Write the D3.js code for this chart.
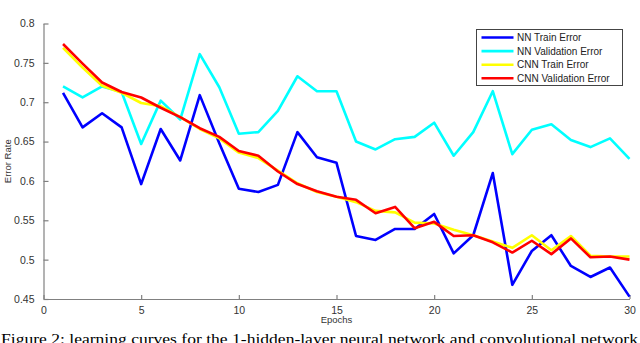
<!DOCTYPE html>
<html>
<head>
<meta charset="utf-8">
<script src="https://d3js.org/d3.v7.min.js"></script>
<style>
  body { margin: 0; background: #fff; }
  svg { display: block; }
</style>
</head>
<body>
<div id="chart"></div>
<script>
// Learning curves: NN vs CNN error rate per epoch

// ==========================================================
// Data
var epochs = d3.range(1, 31);

var nnTrain = [0.712, 0.668, 0.686, 0.668, 0.596, 0.666, 0.626, 0.709, 0.648, 0.590,
               0.586, 0.595, 0.662, 0.630, 0.623, 0.530, 0.525, 0.539, 0.539, 0.558,
               0.508, 0.531, 0.610, 0.468, 0.511, 0.531, 0.492, 0.478, 0.490, 0.453];

var nnValid = [0.720, 0.706, 0.720, 0.713, 0.647, 0.702, 0.678, 0.761, 0.719, 0.660,
               0.662, 0.689, 0.733, 0.714, 0.714, 0.650, 0.640, 0.653, 0.656, 0.674,
               0.632, 0.662, 0.714, 0.634, 0.665, 0.672, 0.652, 0.643, 0.654, 0.628];

var cnnTrain = [0.769, 0.744, 0.721, 0.712, 0.699, 0.695, 0.681, 0.666, 0.654, 0.636,
                0.629, 0.613, 0.597, 0.586, 0.580, 0.573, 0.562, 0.560, 0.547, 0.546,
                0.538, 0.531, 0.523, 0.515, 0.531, 0.512, 0.530, 0.505, 0.504, 0.504];

var cnnValid = [0.774, 0.749, 0.725, 0.713, 0.706, 0.693, 0.681, 0.667, 0.656, 0.638,
                0.632, 0.612, 0.596, 0.587, 0.580, 0.576, 0.559, 0.567, 0.540, 0.548,
                0.530, 0.531, 0.522, 0.509, 0.524, 0.507, 0.527, 0.503, 0.504, 0.500];

var seriesNames = ["NN Train Error", "NN Validation Error", "CNN Train Error", "CNN Validation Error"];
var seriesColors = ["#0000ff", "#00ffff", "#ffff00", "#ff0000"];
var seriesValues = [nnTrain, nnValid, cnnTrain, cnnValid];

var xTicks = [0, 5, 10, 15, 20, 25, 30];
var yTicks = [0.45, 0.5, 0.55, 0.6, 0.65, 0.7, 0.75, 0.8];

var caption = "Figure 2: learning curves for the 1-hidden-layer neural network and convolutional network";

// ==========================================================
// SVG wrapper
var svgWidth = 640;
var svgHeight = 343;

var svg = d3.select("#chart")
  .append("svg")
  .attr("width", svgWidth)
  .attr("height", svgHeight);

// scales
var xScale = d3.scaleLinear()
  .domain([0, 30])
  .range([43.5, 629.5]);

var yScale = d3.scaleLinear()
  .domain([0.45, 0.8])
  .range([299, 23.5]);

var axisColor = "#808080";
var textColor = "#333";

// ==========================================================
// Axes (ticks point inward, matlab style)
var bottomAxis = d3.axisBottom(xScale)
  .tickValues(xTicks)
  .tickSizeInner(-4)
  .tickSizeOuter(0)
  .tickPadding(8)
  .tickFormat(d3.format("d"));

var leftAxis = d3.axisLeft(yScale)
  .tickValues(yTicks)
  .tickSizeInner(-5)
  .tickSizeOuter(0)
  .tickPadding(9)
  .tickFormat(d => d3.format("")(+d.toFixed(2)));

var xAxisG = svg.append("g")
  .attr("transform", `translate(0, ${yScale(0.45)})`)
  .call(bottomAxis);

var yAxisG = svg.append("g")
  .attr("transform", `translate(${xScale(0)}, 0)`)
  .call(leftAxis);

[xAxisG, yAxisG].forEach(function(g) {
  g.select(".domain").attr("stroke", axisColor).attr("stroke-width", 1.2);
  g.selectAll(".tick line").attr("stroke", axisColor).attr("stroke-width", 1.2);
  g.selectAll(".tick text")
    .attr("fill", textColor)
    .style("font-family", "'Liberation Sans', Arial, sans-serif")
    .style("font-size", "10.5px");
});

// axis labels
svg.append("text")
  .attr("x", xScale(15))
  .attr("y", 323)
  .attr("text-anchor", "middle")
  .attr("fill", textColor)
  .style("font-family", "'Liberation Sans', Arial, sans-serif")
  .style("font-size", "9.5px")
  .text("Epochs");

svg.append("text")
  .attr("transform", `translate(11, ${yScale(0.625)}) rotate(-90)`)
  .attr("text-anchor", "middle")
  .attr("fill", textColor)
  .style("font-family", "'Liberation Sans', Arial, sans-serif")
  .style("font-size", "9.5px")
  .text("Error Rate");

// ==========================================================
// Lines
var line = d3.line()
  .x((d, i) => xScale(epochs[i]))
  .y(d => yScale(d));

seriesValues.forEach(function(vals, i) {
  svg.append("path")
    .datum(vals)
    .attr("fill", "none")
    .attr("stroke", seriesColors[i])
    .attr("stroke-width", 2.6)
    .attr("stroke-linejoin", "round")
    .attr("d", line);
});

// ==========================================================
// Legend
var legend = svg.append("g")
  .attr("transform", "translate(476.5, 29.5)");

legend.append("rect")
  .attr("width", 146)
  .attr("height", 56)
  .attr("fill", "#fff")
  .attr("stroke", "#444")
  .attr("stroke-width", 1);

seriesNames.forEach(function(name, i) {
  var yPos = 8 + i * 13.6;
  legend.append("line")
    .attr("x1", 5)
    .attr("x2", 37)
    .attr("y1", yPos)
    .attr("y2", yPos)
    .attr("stroke", seriesColors[i])
    .attr("stroke-width", 2.6);
  legend.append("text")
    .attr("x", 40.5)
    .attr("y", yPos)
    .attr("dy", "0.35em")
    .attr("fill", "#222")
    .style("font-family", "'Liberation Sans', Arial, sans-serif")
    .style("font-size", "10px")
    .text(name);
});

// ==========================================================
// Caption (cut off at the bottom edge, as in the source figure)
svg.append("text")
  .attr("x", 1)
  .attr("y", 344)
  .attr("fill", "#000")
  .attr("textLength", 637)
  .attr("lengthAdjust", "spacingAndGlyphs")
  .style("font-family", "'Liberation Serif', 'Times New Roman', serif")
  .style("font-size", "15px")
  .text(caption);
</script>
</body>
</html>
